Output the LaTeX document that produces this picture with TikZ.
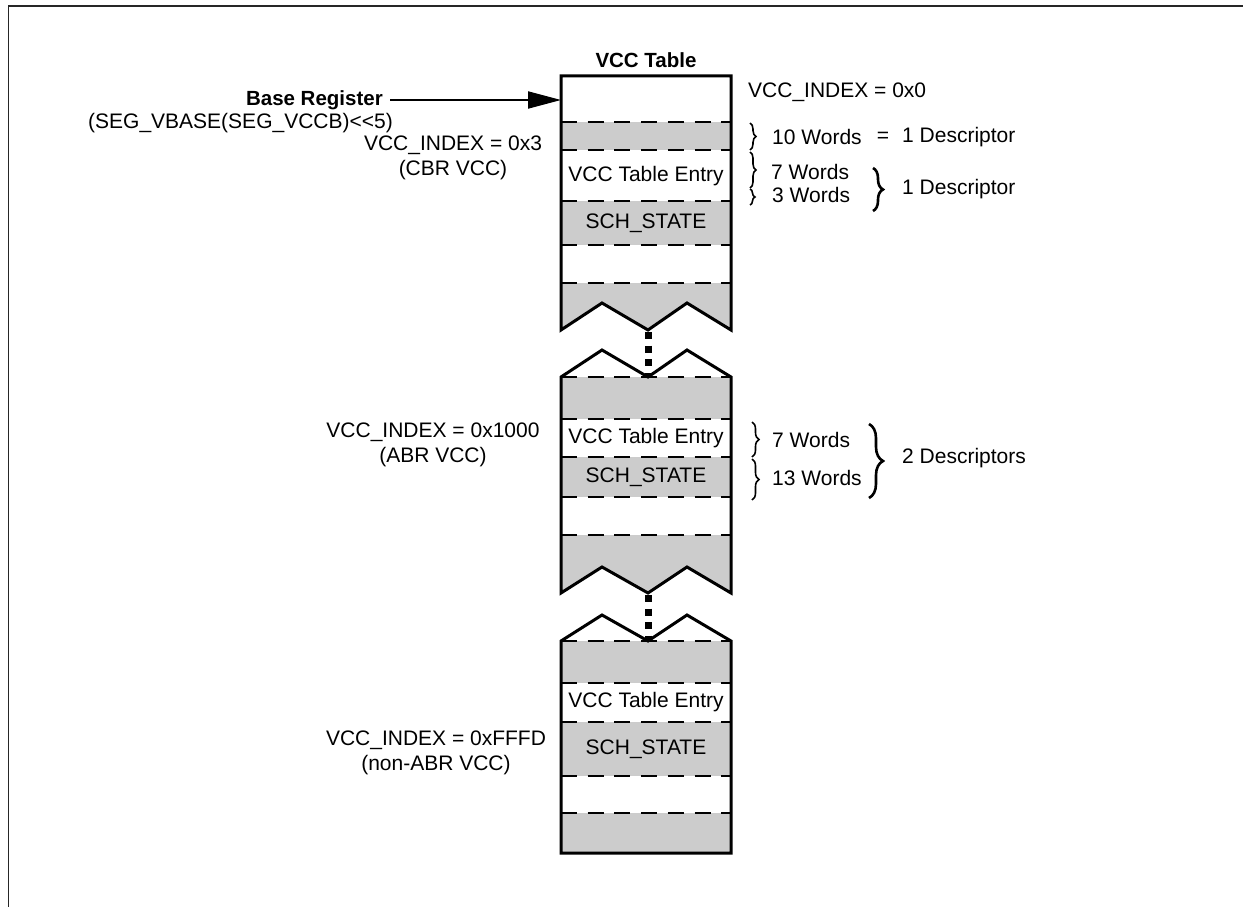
\documentclass[tikz,border=0pt]{standalone}
\usepackage{fontspec}
\setmainfont{Liberation Sans}
\usetikzlibrary{arrows.meta,decorations.pathreplacing}
\tikzset{
  tbl/.style={line width=3pt, line join=miter},
  sepline/.style={line width=2.5pt, dash pattern=on 16pt off 10.7pt},
  gfill/.style={fill=black!20},
  dotcon/.style={line width=7pt, dash pattern=on 7pt off 6.5pt},
  lbl/.style={font=\fontsize{21}{25}\selectfont, inner sep=0pt, align=center},
  blbl/.style={font=\bfseries\fontsize{20.5}{24}\selectfont, inner sep=0pt},
  brc/.style={decorate, decoration={brace, amplitude=#1}, line width=1.6pt},
  bigbrc/.style={decorate, decoration={brace, amplitude=#1}, line width=2.6pt},
}
\begin{document}
\begin{tikzpicture}[x=1pt, y=-1pt]
\useasboundingbox (0,0) rectangle (1243,907);
% frame
\draw[line width=1.8pt, black!85] (8.5,907) -- (8.5,6) -- (1243,6);

% ---------- segment 1 ----------
\fill[gfill] (561,122) rectangle (731,150);
\fill[gfill] (561,201) rectangle (731,245);
\fill[gfill] (561,283) -- (731,283) -- (731,330) -- (687,303) -- (648,330) -- (602,303) -- (561,330) -- cycle;
\foreach \y in {122,150,201,245,283} \draw[sepline] (561,\y) -- (731,\y);
\draw[tbl] (648,330) -- (602,303) -- (561,330) -- (561,76) -- (731,76) -- (731,330) -- (687,303) -- cycle;

% ---------- segment 2 ----------
\fill[gfill] (561,377) rectangle (731,419);
\fill[gfill] (561,457) rectangle (731,497);
\fill[gfill] (561,535) -- (731,535) -- (731,593) -- (687,567) -- (648,593) -- (602,567) -- (561,593) -- cycle;
\foreach \y in {377,419,457,497,535} \draw[sepline] (561,\y) -- (731,\y);
\draw[tbl] (561,377) -- (602,350) -- (648,377) -- (687,350) -- (731,377) -- (731,593) -- (687,567) -- (648,593) -- (602,567) -- (561,593) -- cycle;

% ---------- segment 3 ----------
\fill[gfill] (561,641) rectangle (731,683);
\fill[gfill] (561,722) rectangle (731,776);
\fill[gfill] (561,813) rectangle (731,853);
\foreach \y in {641,683,722,776,813} \draw[sepline] (561,\y) -- (731,\y);
\draw[tbl] (561,641) -- (602,615) -- (648,641) -- (687,615) -- (731,641) -- (731,853) -- (561,853) -- cycle;

% dotted continuation connectors
\coordinate (v1) at (648,332);
\coordinate (t2) at (648,377);
\coordinate (v2) at (648,595);
\coordinate (t3) at (648,641);
\draw[dotcon] (v1) -- (t2);
\draw[dotcon] (v2) -- (t3);

% table title and entries
\node[blbl] (title) at (646,60) {VCC Table};
\node[lbl] (e1) at (646,176) {VCC Table Entry};
\node[lbl] (s1) at (646,223) {SCH\_STATE};
\node[lbl] (e2) at (646,438) {VCC Table Entry};
\node[lbl] (s2) at (646,477) {SCH\_STATE};
\node[lbl] (e3) at (646,702) {VCC Table Entry};
\node[lbl] (s3) at (646,749) {SCH\_STATE};

% base register arrow
\node[blbl, anchor=east] (base) at (383,100) {Base Register};
\coordinate (tabin) at (561,100);
\draw[line width=2pt, -{Triangle[length=33pt,width=17pt]}, shorten <=7pt] (base.east) -- (tabin);
\node[lbl, anchor=east] (segv) at (393,123) {(SEG\_VBASE(SEG\_VCCB)<\kern0pt<\kern0pt5)};

% left index labels
\node[lbl] (i3) at (453,158) {VCC\_INDEX = 0x3\\(CBR VCC)};
\node[lbl] (i1000) at (433,445) {VCC\_INDEX = 0x1000\\(ABR VCC)};
\node[lbl] (iF) at (436,753) {VCC\_INDEX = 0xFFFD\\(non-ABR VCC)};

% right labels
\node[lbl, anchor=west] (i0) at (748,92) {VCC\_INDEX = 0x0};
\draw[brc=6pt] (750,123) -- (750,150);
\draw[brc=6pt] (750,152) -- (750,188);
\draw[brc=5pt] (750,189) -- (750,205);
\node[lbl, anchor=west] (w10) at (772,137) {10 Words};
\node[lbl] (eq) at (883,137) {=};
\node[lbl, anchor=west] (d1a) at (902,137) {1 Descriptor};
\node[lbl, anchor=west] (w7a) at (771,172) {7 Words};
\node[lbl, anchor=west] (w3) at (772,195) {3 Words};
\draw[bigbrc=10pt] (873,168) -- (873,211);
\node[lbl, anchor=west] (d1b) at (902,189) {1 Descriptor};

\draw[brc=7pt] (752,422) -- (752,457);
\draw[brc=7pt] (752,459) -- (752,500);
\node[lbl, anchor=west] (w7b) at (772,440) {7 Words};
\node[lbl, anchor=west] (w13) at (772,478) {13 Words};
\draw[bigbrc=14pt] (869,424) -- (869,498);
\node[lbl, anchor=west] (d2) at (902,458) {2 Descriptors};
\end{tikzpicture}
\end{document}
